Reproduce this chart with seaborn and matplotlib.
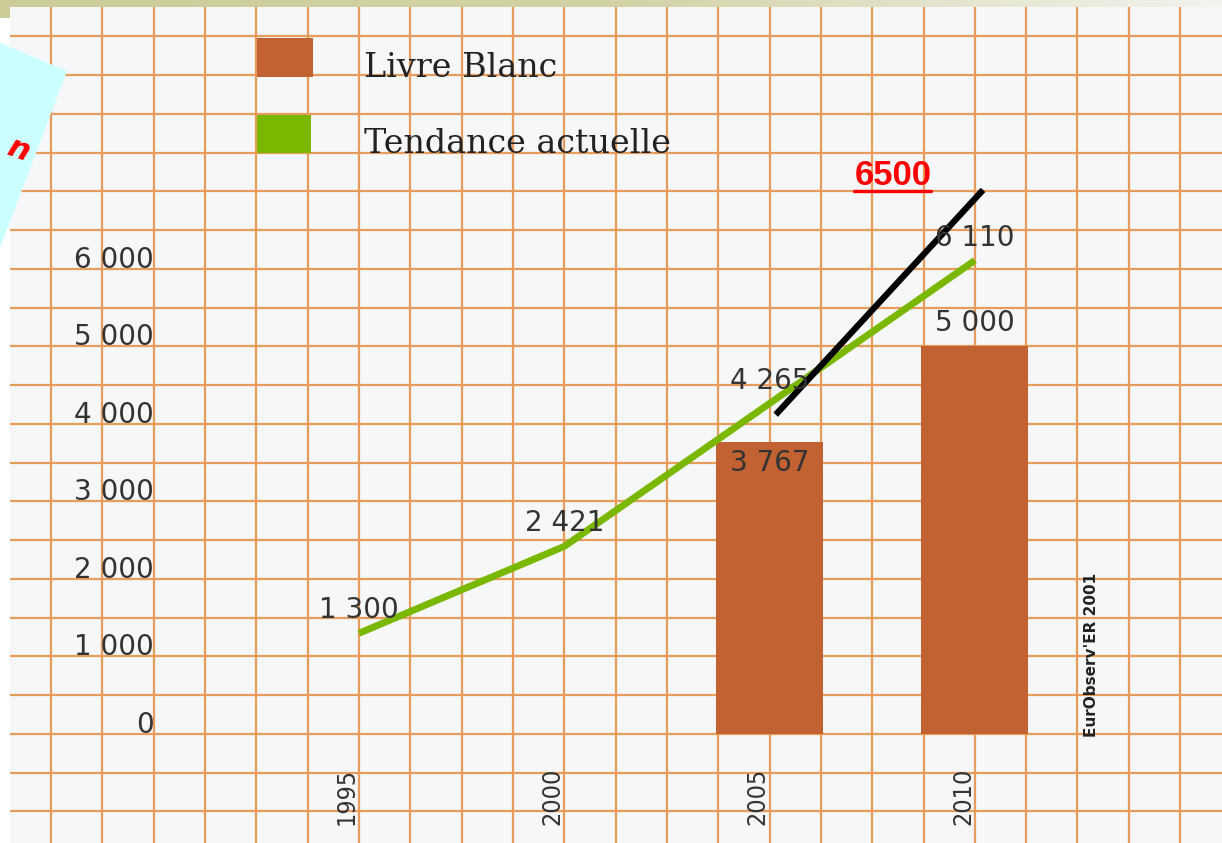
'''wind power growth chart: Livre Blanc targets vs current trend'''
import numpy as np
import matplotlib
matplotlib.use('Agg')
import matplotlib.pyplot as plt
from matplotlib.colors import LinearSegmentedColormap
from matplotlib.lines import Line2D
from matplotlib.patches import Polygon, Rectangle
import seaborn as sns

# Tendance actuelle (green line)
trend_years = [1995, 2000, 2005, 2010]
trend_values = [1300, 2421, 4265, 6110]
trend_labels = ['1 300', '2 421', '4 265', '6 110']

# Livre Blanc (bars)
target_years = [2005, 2010]
target_values = [3767, 5000]
target_labels = ['3 767', '5 000']

# black line drawn over the chart
drawn_years = [2005.15, 2010.2]
drawn_values = [4120, 7020]
drawn_label = '6500'

y_ticks = [0, 1000, 2000, 3000, 4000, 5000, 6000]
y_tick_labels = ['0', '1 000', '2 000', '3 000', '4 000', '5 000', '6 000']
year_labels = ['1995', '2000', '2005', '2010']
legend_labels = ['Livre Blanc', 'Tendance actuelle']
source_label = "EurObserv'ER 2001"

ORANGE = '#c26131'
GREEN = '#7ab800'
GRID = '#e79c5c'
TEXT = '#333333'
W, H = 1222, 843


def fig_xy(px, py):
    '''pixel position (from top left) to figure fraction'''
    return px / W, 1 - py / H


def main():
    '''
    main
    '''
    sns.set_theme(style='white')
    plt.rcParams['font.family'] = ['DejaVu Sans']

    fig = plt.figure(figsize=(W / 100, H / 100), dpi=100, facecolor='white')
    ax = fig.add_axes([10 / W, 0, 1212 / W, 836 / H])
    ax.set_facecolor('#f6f7f8')

    sns.barplot(x=target_years, y=target_values, native_scale=True,
                width=0.52, color=ORANGE, saturation=1, linewidth=0,
                edgecolor='none', ax=ax, zorder=3)
    sns.lineplot(x=trend_years, y=trend_values, color=GREEN, linewidth=5,
                 solid_capstyle='butt', ax=ax, zorder=4)
    sns.lineplot(x=drawn_years, y=drawn_values, color='black', linewidth=4.5,
                 solid_capstyle='butt', ax=ax, zorder=5)

    ax.set_xlim(1986.5, 2016.02)
    ax.set_ylim(-1406.5, 9380.6)
    ax.set_xticks(np.arange(1987.5, 2016, 1.25))
    ax.set_yticks(np.arange(-1000, 9400, 500))
    ax.tick_params(length=0, labelbottom=False, labelleft=False)
    ax.grid(True, color=GRID, linewidth=1.6)
    ax.set_axisbelow(True)
    ax.set_xlabel('')
    ax.set_ylabel('')
    for spine in ax.spines.values():
        spine.set_visible(False)

    # y axis values sit a little above their grid line
    for val, lab in zip(y_ticks, y_tick_labels):
        ax.annotate(lab, (1990, val), xytext=(0, 6.5),
                    textcoords='offset points', ha='right', va='center',
                    fontsize=20, color=TEXT)

    for yr, val, lab in zip(trend_years, trend_values, trend_labels):
        ax.annotate(lab, (yr, val), xytext=(0, 16.5),
                    textcoords='offset points', ha='center', va='center',
                    fontsize=20, color=TEXT, zorder=6)

    for yr, val, lab, off in zip(target_years, target_values, target_labels,
                                 [-15, 17]):
        ax.annotate(lab, (yr, val), xytext=(0, off),
                    textcoords='offset points', ha='center', va='center',
                    fontsize=20, color=TEXT, zorder=6)

    for yr, lab in zip(trend_years, year_labels):
        ax.annotate(lab, (yr, 0), xytext=(-8.6, -45),
                    textcoords='offset points', rotation=90,
                    ha='center', va='center', fontsize=18,
                    fontstretch='condensed', color=TEXT)

    ax.annotate(source_label, (2012.85, 0), xytext=(0, -2),
                textcoords='offset points', rotation=90, ha='center',
                va='bottom', fontsize=11, fontweight='bold', color='#222222')

    # legend keys in the top grid cells
    for (px, py, pw, ph), col, lab in zip([(257, 38, 56, 39),
                                           (257, 115, 54, 38)],
                                          [ORANGE, GREEN], legend_labels):
        fig.add_artist(Rectangle(fig_xy(px, py + ph), pw / W, ph / H,
                                 transform=fig.transFigure, facecolor=col,
                                 edgecolor='none'))
        fig.text(*fig_xy(364, py + ph), lab, ha='left', va='baseline',
                 family='DejaVu Serif', fontsize=24, color='#222222')

    # red 6500 note, underlined
    note = ax.annotate(drawn_label, (drawn_years[1], drawn_values[1]),
                       xytext=(-65, 3.6), textcoords='offset points',
                       ha='center', va='baseline', color='red', fontsize=25,
                       fontweight='bold', family='Liberation Sans', zorder=6)
    fig.canvas.draw()
    box = note.get_window_extent()
    x0, y0 = box.x0 / W, (box.y0 + 1) / H
    x1 = box.x1 / W
    fig.add_artist(Line2D([x0, x1], [y0, y0], transform=fig.transFigure,
                          color='red', linewidth=2.4))

    # top band
    band = fig.add_axes([0, 1 - 7 / H, 1, 7 / H])
    cmap = LinearSegmentedColormap.from_list(
        'band', ['#cccc99', '#d2d2a6', '#f3f3ee'])
    band.imshow(np.linspace(0, 1, 256)[None, :], aspect='auto', cmap=cmap)
    band.axis('off')
    fig.add_artist(Rectangle(fig_xy(0, 18), 10 / W, 11 / H,
                             transform=fig.transFigure, facecolor='#cccc99',
                             edgecolor='none'))

    # cyan sticky note on the left
    fig.add_artist(Polygon([fig_xy(-40, 26), fig_xy(67, 71), fig_xy(0, 248),
                            fig_xy(-40, 300)], closed=True,
                           transform=fig.transFigure, facecolor='#ccffff',
                           edgecolor='none'))
    fig.text(*fig_xy(18, 150), 'n', color='red', fontsize=22,
             fontweight='bold', fontstyle='italic', rotation=-20,
             ha='center', va='center')

    fig.savefig('out.png', dpi=100)


if __name__ == '__main__':
    main()
